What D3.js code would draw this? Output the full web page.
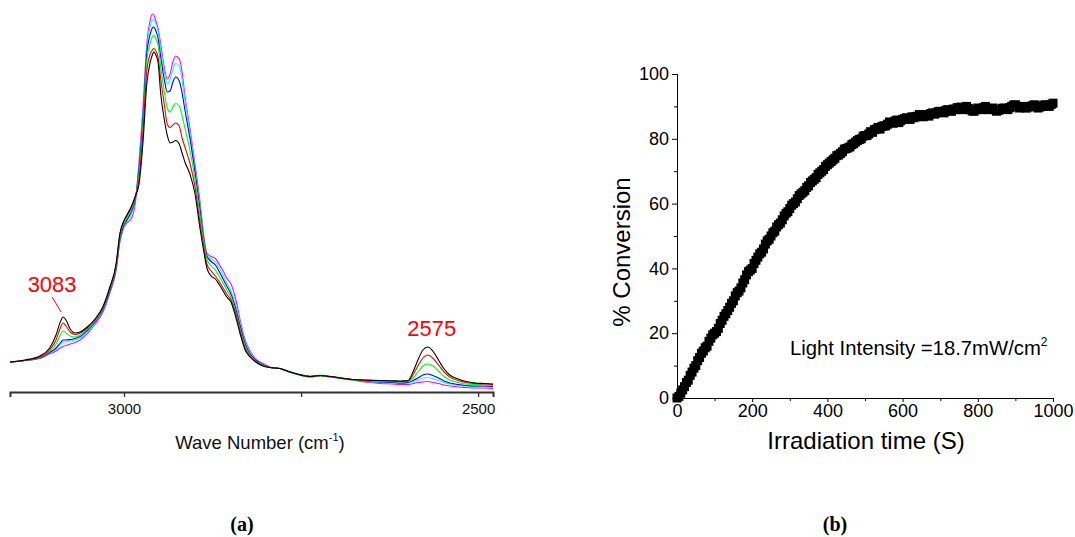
<!DOCTYPE html>
<html lang="en">
<head>
<meta charset="UTF-8">
<title>FTIR spectra and photo-conversion</title>
<script src="https://d3js.org/d3.v7.min.js"></script>
<style>
  body, html { margin: 0; background: #fff; }
  svg { display: block; }
  text { font-family: Arial, "Liberation Sans", sans-serif; }
</style>
</head>
<body>
<div id="chart"></div>
<script>
// ---- (a) spectra: wave number (cm-1) and absorbance (a.u.) per irradiation step ----
var waveNumbers = [3161,3140,3119,3105,3096,3090,3086,3082,3076,3069,3062,3052,3041,3030,3020,3011,3006,3001,2996,2990,
  2984,2979,2973,2968,2963,2960,2958,2955,2952,2948,2943,2939,2935,2931,2927,2922,2918,2914,2907,2900,
  2893,2887,2883,2877,2871,2866,2860,2855,2849,2843,2836,2829,2822,2814,2804,2794,2780,2770,2756,2737,
  2723,2709,2695,2678,2660,2638,2621,2610,2599,2592,2585,2578,2571,2564,2556,2548,2540,2528,2517,2504,2491,2479];

var absBlack = [30,32,36,44,57,70,75,72,63,59,60,65,73,85,105,129,158,170,177,185,
  196,207,252,307,330,337,340,337,330,297,272,257,249,250,251.5,248,239,230,218,199,
  165,139,124,116,113,108,101,95,90,77,58,42,35,30,26,24.5,23.5,21,18,15.5,
  16.5,15.5,14,12.5,12,11.5,11.2,11,11.5,20,32,42,45,41,32,23,17,13,10.5,9,8.5,8];
var absRed = [30,31.5,35,42,52,64,69,66,60,57.5,59,64,72,84,104,127.5,156.5,169,176,184,
  195,212,262,320,338,342,343.5,341,335,312,287,268,264.5,267,269,266,254,245,229,206,
  171,144,128,121,116,111,104,98,92,80,61,44,36,30.5,26.5,24.5,23.5,21,18,15.5,
  16.5,15.5,14,12.5,11.8,11.2,10.8,10.5,11,17,26,34,37,34,27,20,15,11.5,9.5,8.5,8,7.5];
var absGreen = [30,31.5,34.5,41,48,57,61,59,56,55,57,63,71,83,103,126,154.5,167.5,174,182,
  194,217,270,330,349,355,357,353,347,324,300,284,280,285,288.5,286,276,264,242,214,
  178,149,133,126,122,116,109,102,95,82,63,46,37,31,27,24.5,23.5,20.5,17.5,15,
  16,15,13.5,12,11.2,10.5,10.2,10,10.5,14,20,26,28,26,21,15.5,12,9.5,8,7.5,7,6.5];
var absBlue = [30,31.5,34,39.5,44,49,52,52,52.5,53.5,55.5,61.5,70,82,101.5,124.5,152.5,165.5,172,180,
  193,222,277,337,358,364,365,361,354,334,312,300,301,310,315,311,299,282,254,221,
  184,151,136,130.5,127,121,113,106,98,85,66,48,38,32,27.5,24.5,23.5,21,18,15.5,
  16.5,15.5,14,12.5,11,10,9.5,9,9.5,11.5,14,17,18,16.5,14,11,9,7.5,6.5,6,6,5.5];
var absCyan = [30,31.5,34,39,43,47.5,50,50,51,52,54,60,69,81,100.5,123.5,151,164,170.5,177.5,
  192,225,282,342,366,372,372.5,368,361,342,320,308,312,323,328.5,326,312,292,260,225,
  188,153,137.5,133,130,124.5,117,109,101,89,69,50,39.5,32.5,28,24.5,23.5,21.5,18.5,16,
  17,16,14.5,12.5,10.8,9.5,9,8.5,9,10.5,12,14,14.5,13.5,11.5,9.5,8,6.5,6,5.5,5,5];
var absMagenta = [29.5,31.5,33.5,38,41,44,45.5,46.5,48,49.5,52,58.5,67.5,79.5,99,122,149,163,169,173,
  189,229,287,347,372,378,377,371,364,347,324,313,318,330,336,333,320,296,264,229,
  192,154,139,135.5,133.5,128,121,114,108,95,72,52,41,33,28.5,25,23.5,21,18,15,
  16,15,13.5,12,10,8.5,8,7.5,7.5,8.5,9.5,10,10.5,9.5,8.5,7,6,5,4.5,4,4,3.5];

var spectraColors = ["#ff00ff", "#00ffff", "#0000ff", "#00ff00", "#ff0000", "#000000"];
var waveTicks = [3000, 2750, 2500];
var waveTickLabels = ["3000", "", "2500"];
var peakLabels = [{ wn: 3086, text: "3083" }, { wn: 2571, text: "2575" }];

// ---- (b) conversion vs irradiation time ----
var timeS = [0,5,10,15,20,25,30,35,40,45,50,55,60,65,70,75,80,85,90,95,
  100,105,110,115,120,125,130,135,140,145,150,155,160,165,170,175,180,185,190,195,
  200,205,210,215,220,225,230,235,240,245,250,255,260,265,270,275,280,285,290,295,
  300,305,310,315,320,325,330,335,340,345,350,355,360,365,370,375,380,385,390,395,
  400,405,410,415,420,425,430,435,440,445,450,455,460,465,470,475,480,485,490,495,
  500,505,510,515,520,525,530,535,540,545,550,555,560,565,570,575,580,585,590,595,
  600,605,610,615,620,625,630,635,640,645,650,655,660,665,670,675,680,685,690,695,
  700,705,710,715,720,725,730,735,740,745,750,755,760,765,770,775,780,785,790,795,
  800,805,810,815,820,825,830,835,840,845,850,855,860,865,870,875,880,885,890,895,
  900,905,910,915,920,925,930,935,940,945,950,955,960,965,970,975,980,985,990,995,1000];
var conversion = [0,0.5,1.5,2.5,3.5,4.8,5.5,7,8,9.2,10,11.5,12.5,13.8,14.5,15.5,16,17.5,18.5,19.5,
  20,20.5,21.5,23,24,25.2,26,27,28,29.2,30,31.5,32.5,33,34,35.5,36.5,38,39,39.5,
  40,41.5,42.5,43.5,44.5,45,46,47.5,48.5,49,50,51,51.5,52.8,53.5,54,55,56.2,57,57.5,
  58.5,59.5,60,60.5,61.5,62.5,63,63.5,64,65,65.5,66.5,67,67.5,68,69,69.5,70,70.5,71.5,
  72,72.5,73,73.5,74,74.8,75,75.5,76,76.8,77,77.2,77.5,78.2,78.5,79,79.5,79.8,80,80.8,
  81,81,81.5,82.2,82,82.8,83,83.5,83,83.8,84,84,84.5,85.2,85,84.8,85.5,85.8,85,85.6,
  86,86.2,86.5,86,86,86.8,86.5,86.8,87,87.5,87,86.8,87.5,87.2,87,87.8,88,87.6,88,88.4,
  88.5,88.2,88,88.8,89,88.6,88.5,89.2,89,89.6,89.5,89.8,89,89.6,90,89.4,89,88.6,88.5,89,
  89.5,89.2,89,89.6,90,89.4,89,89.2,89.5,89,88.5,88.8,89,89.4,89.5,89.2,89,89.6,90,90.4,
  90.5,90,89.5,89.8,90,89.6,89.5,89.8,90,90.2,90.5,90,89.5,89.8,90,90.4,90.5,90.2,90,90.6,91];
var timeTicks = [0, 200, 400, 600, 800, 1000];
var timeMinor = [100, 300, 500, 700, 900];
var convTicks = [0, 20, 40, 60, 80, 100];
var convMinor = [10, 30, 50, 70, 90];

var W = 1075, H = 537;
var svg = d3.select("#chart").append("svg").attr("width", W).attr("height", H);

// ================= panel (a) =================
var xA = d3.scaleLinear().domain([3161, 2479]).range([10, 493]);
var yA = d3.scaleLinear().domain([0, 380]).range([392, 12]);

var series = [absMagenta, absCyan, absBlue, absGreen, absRed, absBlack];
var line = d3.line()
  .x(function (d, i) { return xA(waveNumbers[i]); })
  .y(function (d) { return yA(d); })
  .curve(d3.curveMonotoneX);

svg.append("g").selectAll("path").data(series).enter().append("path")
  .attr("d", line)
  .attr("fill", "none")
  .attr("stroke", function (d, i) { return spectraColors[i]; })
  .attr("stroke-width", 1.1);

var axA = svg.append("g").attr("transform", "translate(0,392)")
  .call(d3.axisBottom(xA).tickValues(waveTicks)
    .tickFormat(function (d, i) { return waveTickLabels[i]; })
    .tickSizeOuter(0).tickSize(5).tickPadding(6));
axA.select(".domain").attr("stroke", "#333").attr("stroke-width", 2);
axA.selectAll(".tick line").attr("stroke", "#333").attr("stroke-width", 1.3);
axA.selectAll(".tick text").attr("font-size", 15).attr("fill", "#111");

var tA = svg.append("text").attr("x", 260).attr("y", 449)
  .attr("text-anchor", "middle").attr("font-size", 18.5).attr("fill", "#111");
tA.append("tspan").text("Wave Number (cm");
tA.append("tspan").attr("dy", -8).attr("font-size", 11).text("-1");
tA.append("tspan").attr("dy", 8).text(")");

// peak annotations
svg.append("text").attr("x", xA(peakLabels[0].wn) - 11).attr("y", 292)
  .attr("text-anchor", "middle").attr("font-size", 22).attr("fill", "#ff0000")
  .text(peakLabels[0].text);
svg.append("line")
  .attr("x1", xA(peakLabels[0].wn) - 11).attr("y1", 297)
  .attr("x2", xA(peakLabels[0].wn) - 2).attr("y2", 312)
  .attr("stroke", "#ff0000").attr("stroke-width", 1);
svg.append("text").attr("x", xA(peakLabels[1].wn) + 4).attr("y", 336)
  .attr("text-anchor", "middle").attr("font-size", 22).attr("fill", "#ff0000")
  .text(peakLabels[1].text);

// ================= panel (b) =================
var xB = d3.scaleLinear().domain([0, 1000]).range([677, 1053]);
var yB = d3.scaleLinear().domain([0, 100]).range([398, 74]);

var sq = 9;
svg.append("g").selectAll("rect").data(conversion).enter().append("rect")
  .attr("x", function (d, i) { return xB(timeS[i]) - sq / 2; })
  .attr("y", function (d) { return yB(d) - sq / 2; })
  .attr("width", sq).attr("height", sq)
  .attr("fill", "#000");

function styleAxis(g) {
  g.select(".domain").attr("stroke", "#000").attr("stroke-width", 1);
  g.selectAll(".tick line").attr("stroke", "#000");
  g.selectAll(".tick text").attr("font-size", 18).attr("fill", "#000");
}

var axBx = svg.append("g").attr("transform", "translate(0,398)")
  .call(d3.axisBottom(xB).tickValues(timeTicks).tickFormat(d3.format("d"))
    .tickSizeOuter(0).tickSize(4).tickPadding(2));
styleAxis(axBx);
svg.append("g").attr("transform", "translate(0,398)")
  .call(d3.axisBottom(xB).tickValues(timeMinor).tickFormat("").tickSizeOuter(0).tickSize(3))
  .call(styleAxis);

var axBy = svg.append("g").attr("transform", "translate(677,0)")
  .call(d3.axisLeft(yB).tickValues(convTicks).tickFormat(d3.format("d"))
    .tickSizeOuter(0).tickSize(5).tickPadding(3));
styleAxis(axBy);
svg.append("g").attr("transform", "translate(677,0)")
  .call(d3.axisLeft(yB).tickValues(convMinor).tickFormat("").tickSizeOuter(0).tickSize(3))
  .call(styleAxis);

svg.append("text").attr("x", 866).attr("y", 449)
  .attr("text-anchor", "middle").attr("font-size", 24).attr("fill", "#000")
  .text("Irradiation time (S)");
svg.append("text").attr("transform", "translate(630,252) rotate(-90)")
  .attr("text-anchor", "middle").attr("font-size", 24).attr("fill", "#000")
  .text("% Conversion");

var li = svg.append("text").attr("x", 790).attr("y", 355)
  .attr("font-size", 20.3).attr("fill", "#000");
li.append("tspan").text("Light Intensity =18.7mW/cm");
li.append("tspan").attr("dy", -9).attr("font-size", 12).text("2");

// panel letters
svg.selectAll("text.panel").data([["(a)", 242], ["(b)", 835]]).enter().append("text")
  .attr("class", "panel")
  .attr("x", function (d) { return d[1]; }).attr("y", 531)
  .attr("text-anchor", "middle")
  .style("font-family", "'Liberation Serif', 'DejaVu Serif', serif")
  .style("font-weight", "bold").style("font-size", "20px")
  .text(function (d) { return d[0]; });
</script>
</body>
</html>
